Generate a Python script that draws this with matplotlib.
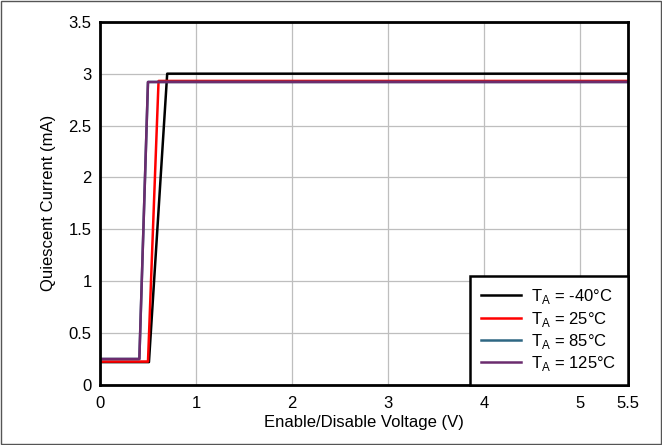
import matplotlib
matplotlib.use('Agg')
import matplotlib.pyplot as plt
from matplotlib.patches import Rectangle

plt.rcParams['font.family'] = ['Liberation Sans', 'DejaVu Sans']

# enable voltage (V) and quiescent current (mA) per temperature
v_m40 = [0, 0.51, 0.70, 1.0, 5.5]
i_m40 = [0.22, 0.22, 3.0, 3.0, 3.0]
v_25 = [0, 0.50, 0.61, 1.0, 5.5]
i_25 = [0.225, 0.225, 2.93, 2.93, 2.93]
v_85 = [0, 0.41, 0.50, 1.0, 5.5]
i_85 = [0.25, 0.25, 2.92, 2.92, 2.92]
v_125 = [0, 0.41, 0.50, 1.0, 5.5]
i_125 = [0.25, 0.25, 2.92, 2.92, 2.92]

labels = ['T$_\\mathregular{A}$ = -40°C', 'T$_\\mathregular{A}$ = 25°C',
          'T$_\\mathregular{A}$ = 85°C', 'T$_\\mathregular{A}$ = 125°C']
colors = ['#000000', '#FF0000', '#2E6783', '#6B2C6E']

xticks = [0, 1, 2, 3, 4, 5, 5.5]
xticklabels = ['0', '1', '2', '3', '4', '5', '5.5']
yticks = [0, 0.5, 1, 1.5, 2, 2.5, 3, 3.5]
yticklabels = ['0', '0.5', '1', '1.5', '2', '2.5', '3', '3.5']

fig = plt.figure(figsize=(6.62, 4.45), dpi=100)
ax = fig.add_axes([0.151, 0.135, 0.798, 0.816])

series = [(v_m40, i_m40), (v_25, i_25), (v_85, i_85), (v_125, i_125)]
for (v, i), lab, c in zip(series, labels, colors):
    ax.plot(v, i, color=c, lw=1.8, label=lab)

ax.set_xlim(0, 5.5)
ax.set_ylim(0, 3.5)
ax.set_xticks(xticks)
ax.set_xticklabels(xticklabels)
ax.set_yticks(yticks)
ax.set_yticklabels(yticklabels)
ax.tick_params(length=0, labelsize=12)
ax.tick_params(axis='x', pad=8)
ax.tick_params(axis='y', pad=6)
ax.grid(True, color='#BEBEBE', lw=0.9)
ax.set_axisbelow(True)
for s in ax.spines.values():
    s.set_linewidth(2)
ax.set_xlabel('Enable/Disable Voltage (V)', fontsize=12, labelpad=3)
ax.set_ylabel('Quiescent Current (mA)', fontsize=12, labelpad=9)

leg = ax.legend(loc='lower right', fontsize=12, fancybox=False, framealpha=1,
                borderaxespad=0, handlelength=2.4, labelspacing=0.2,
                borderpad=0.7, handletextpad=0.6)
leg.get_frame().set_edgecolor('black')
leg.get_frame().set_linewidth(1.8)

fig.patches.append(Rectangle((0.002, 0.002), 0.996, 0.996, transform=fig.transFigure,
                             fill=False, edgecolor='#555555', lw=1))

fig.savefig('out.png', dpi=100)
